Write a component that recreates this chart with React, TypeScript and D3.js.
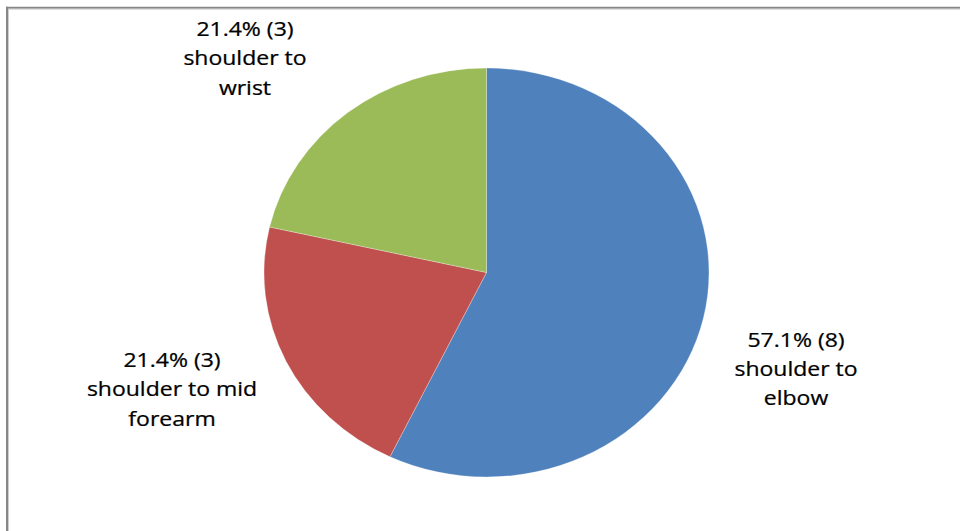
import React from "react";
import * as d3 from "d3";

const categories = ["shoulder to elbow", "shoulder to mid forearm", "shoulder to wrist"];
const counts = [8, 3, 3];
const labelLines = [
  ["shoulder to", "elbow"],
  ["shoulder to mid", "forearm"],
  ["shoulder to", "wrist"],
];

const colors = ["#4F81BD", "#C0504D", "#9BBB59"];
// label offsets (layout) from slice mid-point on the rim to the middle-line baseline
const labelOffsets: [number, number][] = [
  [92.6, 58],
  [-114, 35],
  [-102.8, -47.6],
];

const W = 960;
const H = 531;
const cx = 486.5;
const cy = 272.5;
const rx = 222.5;
const ry = 204.5;
const lineGap = 29.5;
const fontSize = 20;
const textScaleX = 1.15;

export default function App() {
  const total = d3.sum(counts);
  const pie = d3.pie<number>().sort(null).value((d) => d);
  const arcs = pie(counts);
  const arc = d3.arc<d3.PieArcDatum<number>>().innerRadius(0).outerRadius(rx);

  return (
    <svg
      width={W}
      height={H}
      style={{ position: "absolute", left: 0, top: 0, background: "#fff" }}
      fontFamily="'Open Sans', Lato, sans-serif"
    >
      <rect x={0} y={0} width={W} height={H} fill="#fff" />
      {/* frame */}
      <line x1={6} y1={7.7} x2={W} y2={7.7} stroke="#878787" strokeWidth={2} />
      <line x1={7} y1={6.7} x2={7} y2={H} stroke="#878787" strokeWidth={2} />
      <line x1={8.5} y1={9.2} x2={W} y2={9.2} stroke="#cfcfcf" strokeWidth={1} />
      <line x1={8.5} y1={9.2} x2={8.5} y2={H} stroke="#cfcfcf" strokeWidth={1} />

      <g transform={`translate(${cx},${cy}) scale(1,${ry / rx})`}>
        {arcs.map((a, i) => (
          <path
            key={categories[i]}
            d={arc(a) || ""}
            fill={colors[i]}
            stroke="#ffffff"
            strokeOpacity={0.35}
            strokeWidth={0.8}
            vectorEffect="non-scaling-stroke"
          />
        ))}
      </g>

      {arcs.map((a, i) => {
        const mid = (a.startAngle + a.endAngle) / 2;
        const ex = cx + rx * Math.sin(mid);
        const ey = cy - ry * Math.cos(mid);
        const lx = ex + labelOffsets[i][0];
        const ly = ey + labelOffsets[i][1];
        const pct = ((counts[i] / total) * 100).toFixed(1);
        const lines = [`${pct}% (${counts[i]})`, ...labelLines[i]];
        return (
          <g key={"lab" + i} transform={`translate(${lx},${ly}) scale(${textScaleX},1)`}>
            {lines.map((t, j) => (
              <text
                key={j}
                x={0}
                y={(j - 1) * lineGap}
                textAnchor="middle"
                fontSize={fontSize}
                fill="#000"
                stroke="#000"
                strokeWidth={0.25}
              >
                {t}
              </text>
            ))}
          </g>
        );
      })}
    </svg>
  );
}
